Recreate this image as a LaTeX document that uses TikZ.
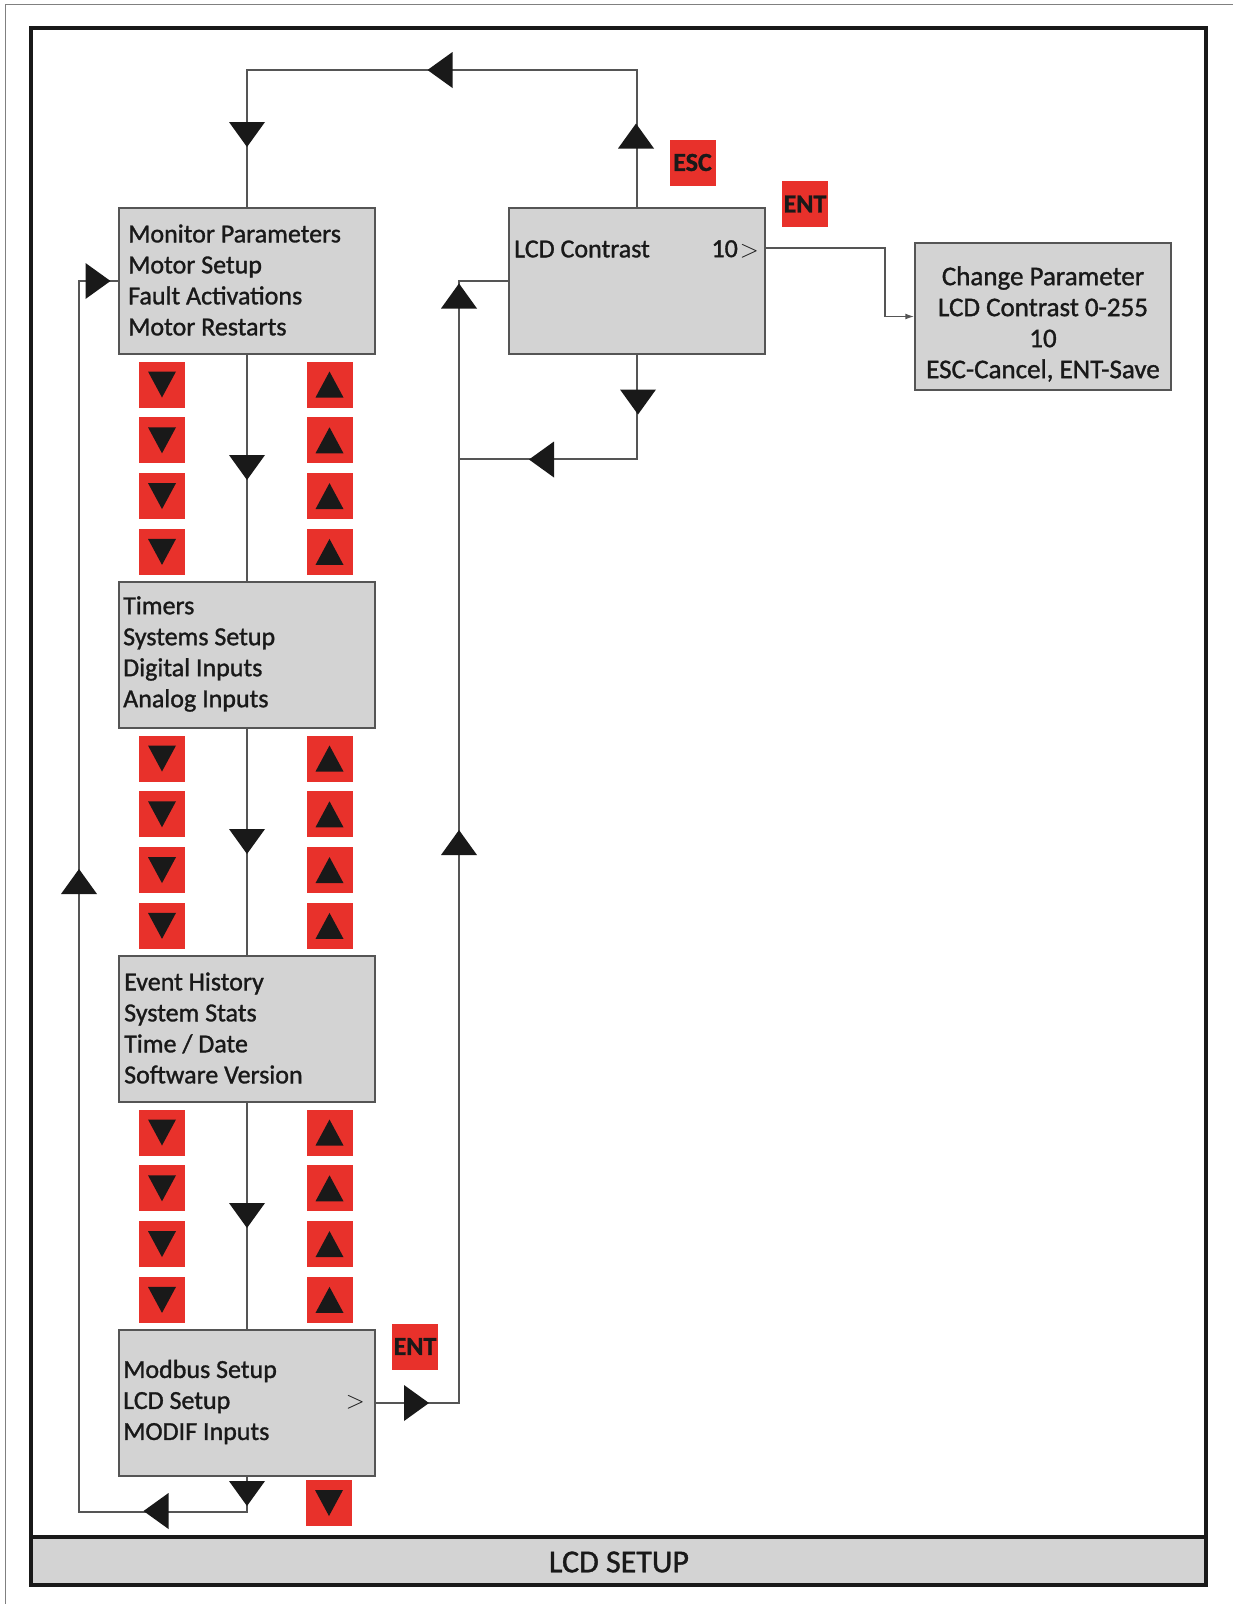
\documentclass[tikz,border=0pt]{standalone}
\usepackage{fontspec}
\setmainfont{Carlito}[FakeBold=1.2]
\usetikzlibrary{arrows.meta}
\definecolor{keyred}{RGB}{232,49,43}
\definecolor{panelgray}{RGB}{211,211,211}
\definecolor{wire}{RGB}{85,85,85}
\definecolor{ink}{RGB}{25,25,25}
\newcommand{\menumore}{\ensuremath{>}}
\begin{document}
\begin{tikzpicture}[x=1pt,y=-1pt,
  menubox/.style={draw=wire, fill=panelgray, line width=1.5pt,
    minimum width=256pt, minimum height=146pt, inner sep=0pt},
  menutext/.style={anchor=west, align=left, inner sep=0pt,
    font=\fontsize{26}{31}\selectfont, text=ink},
  keysq/.style={fill=keyred, minimum size=46pt, inner sep=0pt},
  keytext/.style={font=\fontsize{26}{26}\selectfont\bfseries, text=ink},
  wireline/.style={draw=wire, line width=1.5pt},
  % large black pointers on the connectors
  tridown/.pic={\fill[ink] (-18,-12.5) -- (18,-12.5) -- (0,12.5) -- cycle;},
  triup/.pic={\fill[ink] (-18,12.5) -- (18,12.5) -- (0,-12.5) -- cycle;},
  trileft/.pic={\fill[ink] (12.5,-18) -- (12.5,18) -- (-12.5,0) -- cycle;},
  triright/.pic={\fill[ink] (-12.5,-18) -- (-12.5,18) -- (12.5,0) -- cycle;},
  % key symbols inside the red keys
  smalldown/.pic={\fill[ink] (-14,-13) -- (14,-13) -- (0,13) -- cycle;},
  smallup/.pic={\fill[ink] (-14,13) -- (14,13) -- (0,-13) -- cycle;},
]
\useasboundingbox (0,0) rectangle (1233,1604);

% page edges
\draw[gray, line width=1pt] (5,1604) -- (5,4) -- (1233,4);

% title banner and frame
\fill[panelgray] (31,1537) rectangle (1206,1585);
\draw[ink, line width=3.5pt] (31,1537) -- (1206,1537);
\draw[ink, line width=3.5pt] (31,28) rectangle (1206,1585);
\node[font=\fontsize{32}{32}\selectfont, text=ink] (title) at (619,1562) {LCD SETUP};

% menu pages
\node[menubox] (m1) at (247,281) {};
\node[menubox] (m2) at (247,655) {};
\node[menubox] (m3) at (247,1029) {};
\node[menubox] (m4) at (247,1403) {};
\node[menubox] (lcd) at (637,281) {};
\node[menubox, minimum height=147pt] (chg) at (1043,316.5) {};

\node[menutext] (m1txt) at (128,280) {Monitor Parameters\\Motor Setup\\Fault Activations\\Motor Restarts};
\node[menutext] (m2txt) at (123,654) {Timers\\Systems Setup\\Digital Inputs\\Analog Inputs};
\node[menutext] (m3txt) at (124,1028) {Event History\\System Stats\\Time / Date\\Software Version};
\node[menutext] (m4txt) at (123,1402) {Modbus Setup\\LCD Setup\\MODIF Inputs};
\node[menutext, anchor=east] (m4more) at (365,1402) {\menumore};
\node[menutext] (lcdlbl) at (514,249) {LCD Contrast};
\node[menutext, anchor=east] (lcdval) at (759,249) {10\kern2pt\menumore};
\node[menutext, anchor=center, align=center, font=\fontsize{27}{31}\selectfont] (chgtxt) at (1043,324)
  {Change Parameter\\LCD Contrast 0-255\\10\\ESC-Cancel, ENT-Save};

% connectors
\coordinate (toprow) at (0,70);
\coordinate (railL) at (79,1512);
\coordinate (railR) at (459,1403);
\coordinate (railJ) at (459,459);
\coordinate (bend) at (885,248);

\draw[wireline] (lcd.north) -- (lcd.north |- toprow) -| (m1.north);
\draw[wireline] (m1.south) -- (m2.north);
\draw[wireline] (m2.south) -- (m3.north);
\draw[wireline] (m3.south) -- (m4.north);
\draw[wireline] (m4.south) |- (railL) |- (m1.west);
\draw[wireline] (m4.east) -- (railR) |- (lcd.west);
\draw[wireline] (lcd.south) |- (railJ);
\draw[wireline, -{Latex[length=9pt,width=6pt]}] (lcd.east |- bend) -- (bend) |- (chg.west);

% pointers
\pic at (247,134.5) {tridown};
\pic at (440,70) {trileft};
\pic at (636,136) {triup};
\foreach \g in {0,1,2} {\pic at (247,{467.5+374*\g}) {tridown};}
\pic at (247,1493.5) {tridown};
\pic at (98,281) {triright};
\pic at (79,881.5) {triup};
\pic at (156,1511) {trileft};
\pic at (416.5,1403) {triright};
\pic at (459,842.5) {triup};
\pic at (459,296) {triup};
\pic at (638,402) {tridown};
\pic at (541.5,459.5) {trileft};

% arrow keys between the pages
\foreach \g in {0,1,2} {
  \foreach \r in {0,1,2,3} {
    \node[keysq] (kd-\g-\r) at (162,{384.5+374*\g+55.8*\r}) {};
    \pic at (kd-\g-\r) {smalldown};
    \node[keysq] (ku-\g-\r) at (329.5,{384.5+374*\g+55.8*\r}) {};
    \pic at (ku-\g-\r) {smallup};
  }
}
\node[keysq] (kd-last) at (329,1503) {};
\pic at (kd-last) {smalldown};

% ESC / ENT keys
\node[keysq, keytext] (esc) at (692.5,162.5) {ESC};
\node[keysq, keytext] (enttop) at (805,204) {ENT};
\node[keysq, keytext] (entbot) at (415,1346.5) {ENT};
\end{tikzpicture}
\end{document}
